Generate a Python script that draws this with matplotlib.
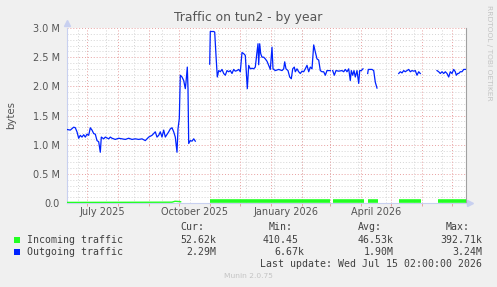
import matplotlib
matplotlib.use("Agg")
import matplotlib.pyplot as plt
import matplotlib.dates as mdates
from matplotlib.patches import Rectangle
from datetime import datetime, timedelta
import numpy as np

# time axis: days counted from the left edge of the graph
start = datetime(2025, 6, 11)
end = datetime(2026, 7, 15)

# Outgoing traffic (M bytes), one list per unbroken run
out_days_1 = [0, 3.3, 6.7, 8.3, 10, 11.7, 13.3, 15, 16.7, 18.3, 20, 21.7, 23.3, 25, 26.7, 28.3,
              30, 31.7, 33.3, 34.3, 36.7, 38.3, 41.7, 43.3, 45, 48.3, 51.7, 55, 58.3, 61.7, 65,
              68.3, 71.7, 75, 78.3, 81.7, 85, 88.3, 90, 91.7, 93.3, 95, 96.7, 98.3, 101.7, 103.3,
              105, 106.7, 108.3, 110, 111, 112.3, 113.3, 115, 116.7, 118.3, 119, 120.3, 121,
              121.7, 123.3, 125, 126.7, 128.3]
out_vals_1 = [1.26, 1.25, 1.30, 1.29, 1.22, 1.11, 1.16, 1.13, 1.17, 1.13, 1.18, 1.16, 1.29, 1.25,
              1.19, 1.18, 1.07, 1.05, 0.87, 1.13, 1.10, 1.13, 1.10, 1.13, 1.11, 1.09, 1.11, 1.10,
              1.09, 1.11, 1.09, 1.10, 1.09, 1.10, 1.07, 1.13, 1.16, 1.22, 1.13, 1.16, 1.22, 1.13,
              1.25, 1.13, 1.22, 1.27, 1.29, 1.22, 1.13, 0.87, 1.27, 1.45, 2.19, 2.16, 2.10, 1.96,
              2.07, 2.33, 1.96, 1.02, 1.07, 1.06, 1.10, 1.06]

out_days_2 = [142.7, 143.3, 146.7, 147.7, 149.0, 150.3, 151.7, 153.3, 155.0, 156.7,
              158.3, 160.0, 161.7, 163.3, 165.0, 166.7, 168.3, 170.0, 171.7, 173.3,
              175.0, 176.7, 178.3, 179.3, 180.3, 181.7, 183.3, 185.0, 186.7, 188.3,
              190.0, 191.0, 191.7, 192.7, 193.7, 195.0, 196.7, 198.3, 200.0, 201.7,
              203.3, 205.0, 206.0, 208.3, 211.7, 215.0, 216.7, 217.7, 219.0, 221.0,
              222.7, 224.3, 225.7, 227.3, 228.3, 230.0, 231.7, 233.3, 235.0, 236.7,
              238.3, 240.0, 241.7, 243.3, 245.0, 246.7, 248.3, 250.0, 251.7, 253.3,
              255.0, 256.7, 258.3, 260.0, 261.7, 263.3]
out_vals_2 = [2.38, 2.94, 2.94, 2.93, 2.53, 2.16, 2.27, 2.25, 2.29, 2.22,
              2.19, 2.27, 2.25, 2.27, 2.22, 2.29, 2.26, 2.27, 2.29, 2.25,
              2.58, 2.56, 2.53, 2.25, 1.96, 2.36, 2.30, 2.31, 2.30, 2.33,
              2.59, 2.73, 2.37, 2.73, 2.56, 2.50, 2.50, 2.47, 2.43, 2.36,
              2.29, 2.67, 2.30, 2.27, 2.29, 2.27, 2.30, 2.42, 2.30, 2.27,
              2.16, 2.13, 2.30, 2.33, 2.25, 2.30, 2.25, 2.22, 2.26, 2.25,
              2.30, 2.36, 2.25, 2.33, 2.30, 2.71, 2.59, 2.47, 2.45, 2.27,
              2.25, 2.25, 2.19, 2.27, 2.27, 2.27]

out_days_3 = [265.7, 267.3, 269.0, 271.7, 275.0, 276.7, 278.3, 280.0, 281.7, 283.3,
              284.3, 285.7, 287.0, 288.3, 290.0, 291.7, 292.7, 294.3, 296.0]
out_vals_3 = [2.27, 2.19, 2.27, 2.26, 2.27, 2.25, 2.29, 2.25, 2.30, 2.10,
              2.27, 2.19, 2.27, 2.16, 2.27, 2.05, 2.27, 2.27, 2.30]

out_days_4 = [300.7, 301.3, 305.0, 306.7, 308.3, 310.0]
out_vals_4 = [2.22, 2.29, 2.29, 2.27, 2.07, 1.97]

out_days_5 = [331.7, 333.3, 335.0, 336.7, 338.3, 340.0, 341.7, 343.3, 345.0, 346.7,
              348.3, 350.0, 351.7, 353.3]
out_vals_5 = [2.22, 2.25, 2.23, 2.27, 2.25, 2.27, 2.29, 2.25, 2.27, 2.26,
              2.27, 2.19, 2.25, 2.22]

out_days_6 = [370.0, 371.7, 373.3, 375.0, 376.7, 378.3, 380.0, 381.7, 383.3, 385.0,
              386.7, 388.3, 389.3, 390.7, 391.7, 393.3, 395.0, 396.7, 399.0]
out_vals_6 = [2.27, 2.25, 2.22, 2.25, 2.22, 2.25, 2.22, 2.16, 2.25, 2.22,
              2.29, 2.25, 2.19, 2.22, 2.22, 2.25, 2.25, 2.29, 2.29]

# Incoming traffic (M bytes), close to zero
in_days_1 = [0, 60, 105, 108, 112, 114.3]
in_vals_1 = [0.010, 0.012, 0.014, 0.030, 0.025, 0.020]
in_days_2 = [142.7, 263.3]
in_vals_2 = [0.035, 0.035]
in_days_3 = [265.7, 297.0]
in_vals_3 = [0.035, 0.035]
in_days_4 = [300.7, 310.7]
in_vals_4 = [0.035, 0.035]
in_days_5 = [332.0, 354.0]
in_vals_5 = [0.035, 0.035]
in_days_6 = [371.0, 399.0]
in_vals_6 = [0.035, 0.035]

out_runs = [(out_days_1, out_vals_1), (out_days_2, out_vals_2), (out_days_3, out_vals_3),
            (out_days_4, out_vals_4), (out_days_5, out_vals_5), (out_days_6, out_vals_6)]
in_runs = [(in_days_1, in_vals_1), (in_days_2, in_vals_2), (in_days_3, in_vals_3),
           (in_days_4, in_vals_4), (in_days_5, in_vals_5), (in_days_6, in_vals_6)]

y_ticks = [0, 0.5, 1.0, 1.5, 2.0, 2.5, 3.0]
y_labels = ["0.0", "0.5 M", "1.0 M", "1.5 M", "2.0 M", "2.5 M", "3.0 M"]

legend_names = ["Incoming traffic", "Outgoing traffic"]
legend_colors = ["#22ff22", "#0022ff"]
legend_cur = ["52.62k", "2.29M"]
legend_min = ["410.45", "6.67k"]
legend_avg = ["46.53k", "1.90M"]
legend_max = ["392.71k", "3.24M"]


def to_x(days):
    return [mdates.date2num(start + timedelta(days=d)) for d in days]


W, H = 497, 287
fig = plt.figure(figsize=(W / 100, H / 100), dpi=100, facecolor="#f0f0f0")
ax = fig.add_axes([67 / W, 1 - 203 / H, (466 - 67) / W, (203 - 28) / H])
ax.set_facecolor("white")

# grid
dot = (0, (1, 2))
for v in np.arange(0.1, 3.01, 0.1):
    major = round(v * 10) % 5 == 0
    ax.axhline(v, color="#e8a0a0" if major else "#d4d4d4", lw=0.7, ls=dot, zorder=1)
for d in range(11, 400, 28):
    ax.axvline(mdates.date2num(start + timedelta(days=d)), color="#d4d4d4", lw=0.7, ls=dot, zorder=1)
ax.xaxis.set_minor_locator(mdates.MonthLocator())
ax.grid(which="minor", axis="x", color="#e8a0a0", lw=0.7, ls=dot, zorder=1)

for days, vals in in_runs:
    lw = 1.0 if days is in_days_1 else 2.6
    ax.plot(to_x(days), vals, color=legend_colors[0], lw=lw, zorder=3, solid_capstyle="butt")
for days, vals in out_runs:
    ax.plot(to_x(days), vals, color=legend_colors[1], lw=0.9, zorder=3)

ax.set_xlim(mdates.date2num(start), mdates.date2num(end))
ax.set_ylim(0, 3.0)

ax.set_yticks(y_ticks)
ax.set_yticklabels(y_labels)
ax.xaxis.set_major_locator(mdates.MonthLocator(bymonth=(1, 4, 7, 10), bymonthday=16))
ax.xaxis.set_major_formatter(mdates.DateFormatter("%B %Y"))
ax.tick_params(axis="y", which="both", length=0, pad=5, labelsize=7, labelcolor="#555555")
ax.tick_params(axis="x", which="major", length=0, pad=3, labelsize=7, labelcolor="#555555")
ax.tick_params(axis="x", which="minor", length=2, color="#e8a0a0", width=0.7)

ax.spines["top"].set_visible(False)
ax.spines["left"].set_color("#c8d0f0")
ax.spines["bottom"].set_color("#c8d0f0")
ax.spines["right"].set_color("#a0a0a0")
for s in ax.spines.values():
    s.set_linewidth(0.8)

# axis arrows
ax.plot([0], [1.027], marker="^", ms=4, color="#c8d0f0", transform=ax.transAxes, clip_on=False)
ax.plot([1.01], [0], marker=">", ms=4, color="#c8d0f0", transform=ax.transAxes, clip_on=False)


def fx(px):
    return px / W


def fy(py):
    return 1 - py / H


fig.text(fx(248.5), fy(18), "Traffic on tun2 - by year", ha="center", va="center",
         fontsize=8.9, color="#555555")
fig.text(fx(11), fy(115), "bytes", rotation=90, ha="center", va="center",
         fontsize=7.3, color="#555555")
fig.text(fx(488.5), fy(53), "RRDTOOL / TOBI OETIKER", rotation=270, ha="center", va="center",
         fontsize=5.4, color="#c4c4c4")

mono = dict(family="DejaVu Sans Mono", fontsize=7.1, color="#404040", va="center")
for txt, xr in zip(["Cur:", "Min:", "Avg:", "Max:"], [204, 293, 382, 470]):
    fig.text(fx(xr), fy(227.3), txt, ha="right", **mono)

rows_y = [240, 252.3]
for i in range(2):
    y = rows_y[i]
    fig.patches.append(Rectangle((fx(14), fy(y + 3)), 6 / W, 6 / H, transform=fig.transFigure,
                                 facecolor=legend_colors[i], edgecolor="none"))
    fig.text(fx(26.7), fy(y), legend_names[i], ha="left", **mono)
    fig.text(fx(216.7), fy(y), legend_cur[i], ha="right", **mono)
    fig.text(fx([299, 304][i]), fy(y), legend_min[i], ha="right", **mono)
    fig.text(fx(394), fy(y), legend_avg[i], ha="right", **mono)
    fig.text(fx(482.3), fy(y), legend_max[i], ha="right", **mono)

fig.text(fx(482.3), fy(263.7), "Last update: Wed Jul 15 02:00:00 2026", ha="right", **mono)
fig.text(fx(248), fy(276), "Munin 2.0.75", ha="center", va="center", fontsize=5.4, color="#c4c4c4")

fig.savefig("out.png", dpi=100, facecolor=fig.get_facecolor())
